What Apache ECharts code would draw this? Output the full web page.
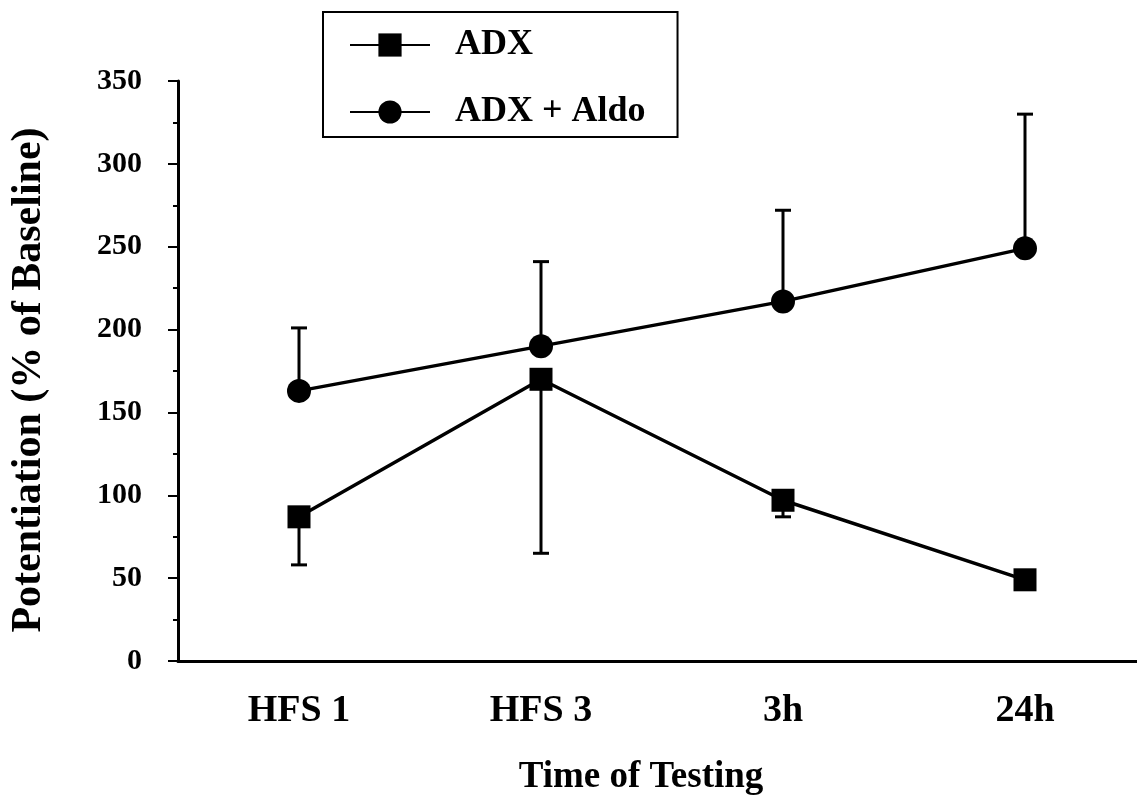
<!DOCTYPE html>
<html>
<head>
<meta charset="utf-8">
<script src="https://cdn.jsdelivr.net/npm/echarts@6/dist/echarts.min.js"></script>
<style>html,body{margin:0;padding:0;background:#fff;overflow:hidden;width:1137px;height:801px}#c{width:1146px;height:801px}</style>
</head>
<body>
<div id="c"></div>
<script>
const categories = ['HFS 1', 'HFS 3', '3h', '24h'];
const adxMean = [87, 170, 97, 49];
const adxLower = [58, 65, 87, null];
const aldoMean = [163, 190, 217, 249];
const aldoUpper = [201, 241, 272, 330];
const yTicks = [0, 50, 100, 150, 200, 250, 300, 350];

const FONT = '"Liberation Serif", "Times New Roman", serif';

function errData(mean, ends) {
  const out = [];
  mean.forEach((m, i) => { if (ends[i] != null) out.push([i, m, ends[i]]); });
  return out;
}
function renderErr(params, api) {
  const x = api.value(0), m = api.value(1), e = api.value(2);
  const p0 = api.coord([x, m]);
  const p1 = api.coord([x, e]);
  return {
    type: 'group',
    children: [
      { type: 'line', shape: { x1: p0[0], y1: p0[1], x2: p1[0], y2: p1[1] }, style: { stroke: '#000', lineWidth: 3 } },
      { type: 'line', shape: { x1: p1[0] - 8, y1: p1[1], x2: p1[0] + 8, y2: p1[1] }, style: { stroke: '#000', lineWidth: 3 } }
    ]
  };
}

const chart = echarts.init(document.getElementById('c'), null, { renderer: 'canvas' });
chart.setOption({
  backgroundColor: '#fff',
  animation: false,
  grid: { left: 178, top: 81, height: 583, right: 0 },
  legend: {
    data: ['ADX', 'ADX + Aldo'],
    orient: 'vertical',
    left: 323, top: 12,
    itemWidth: 80, itemHeight: 29, itemGap: 27,
    padding: [13, 32, 5, 26],
    borderColor: '#000', borderWidth: 2,
    textStyle: { fontFamily: FONT, fontWeight: 'bold', fontSize: 36, color: '#000', lineHeight: 40, padding: [0, 0, 0, 20] }
  },
  xAxis: {
    type: 'category',
    data: categories,
    boundaryGap: true,
    axisLine: { lineStyle: { color: '#000', width: 3 } },
    axisTick: { alignWithLabel: true, length: 6, lineStyle: { width: 2, color: '#000' } },
    axisLabel: { margin: 31, fontFamily: FONT, fontWeight: 'bold', fontSize: 38, color: '#000' },
    name: 'Time of Testing',
    nameLocation: 'middle',
    nameGap: 98,
    nameTextStyle: { fontFamily: FONT, fontWeight: 'bold', fontSize: 37, color: '#000', padding: [0, 42, 0, 0] }
  },
  yAxis: {
    type: 'value',
    min: 0, max: 350, interval: 50,
    axisLine: { show: true, lineStyle: { color: '#000', width: 3 } },
    axisTick: { show: true, length: 10, lineStyle: { width: 2, color: '#000' } },
    minorTick: { show: true, splitNumber: 2, length: 5, lineStyle: { width: 2, color: '#000' } },
    splitLine: { show: false },
    axisLabel: {
      margin: 36, fontFamily: FONT, fontWeight: 'bold', fontSize: 30, color: '#000',
      formatter: v => (yTicks.indexOf(v) >= 0 ? String(v) : '')
    },
    name: 'Potentiation (% of Baseline)',
    nameLocation: 'middle',
    nameGap: 128,
    nameTextStyle: { fontFamily: FONT, fontWeight: 'bold', fontSize: 42, color: '#000', padding: [0, 18, 0, 0] }
  },
  series: [
    {
      name: 'ADX err', type: 'custom', renderItem: renderErr,
      data: errData(adxMean, adxLower), encode: { x: 0, y: [1, 2] }, z: 1, silent: true
    },
    {
      name: 'ADX + Aldo err', type: 'custom', renderItem: renderErr,
      data: errData(aldoMean, aldoUpper), encode: { x: 0, y: [1, 2] }, z: 1, silent: true
    },
    {
      name: 'ADX', type: 'line', data: adxMean, symbol: 'rect', symbolSize: 23,
      lineStyle: { color: '#000', width: 3.5 }, itemStyle: { color: '#000' }, z: 3
    },
    {
      name: 'ADX + Aldo', type: 'line', data: aldoMean, symbol: 'circle', symbolSize: 24,
      lineStyle: { color: '#000', width: 3.5 }, itemStyle: { color: '#000' }, z: 3
    }
  ]
});
</script>
</body>
</html>
